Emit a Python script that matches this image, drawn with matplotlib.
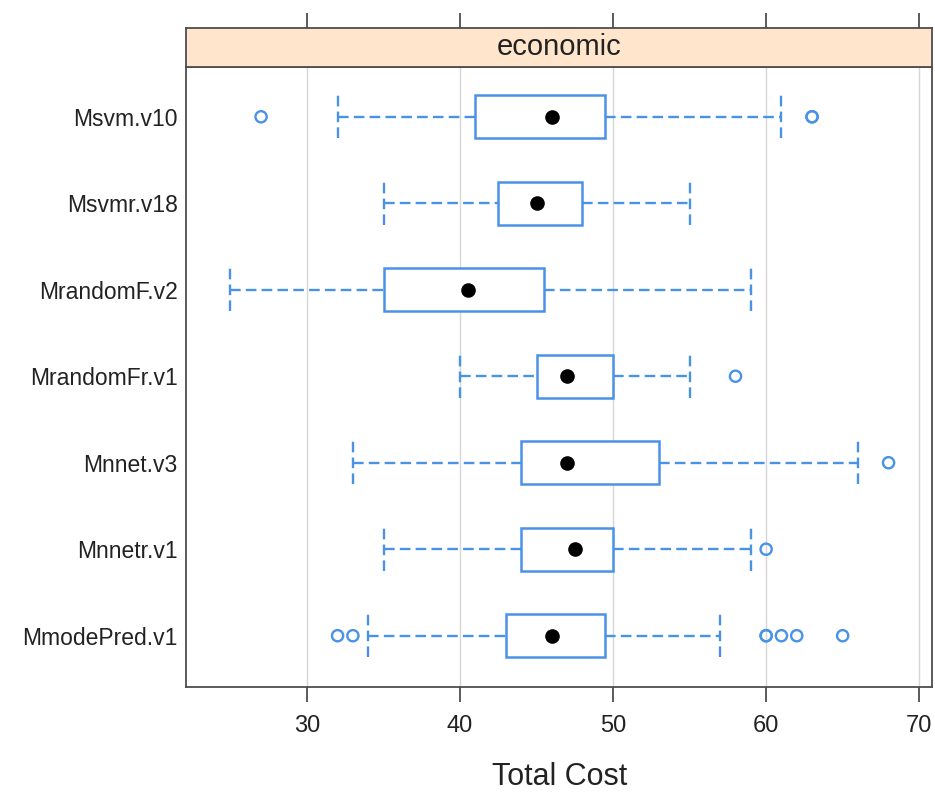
import matplotlib
matplotlib.use("Agg")

import matplotlib.pyplot as plt


# ==========================================================
# DATOS
# ==========================================================

modelos = [
    "MmodePred.v1",
    "Mnnetr.v1",
    "Mnnet.v3",
    "MrandomFr.v1",
    "MrandomF.v2",
    "Msvmr.v18",
    "Msvm.v10",
]

bigote_inf = [34, 35, 33, 40, 25, 35, 32]
q1 = [43, 44, 44, 45, 35, 42.5, 41]
mediana = [46, 47.5, 47, 47, 40.5, 45, 46]
q3 = [49.5, 50, 53, 50, 45.5, 48, 49.5]
bigote_sup = [57, 59, 66, 55, 59, 55, 61]

atipicos = [
    [32, 33, 60, 60, 61, 62, 65],
    [60],
    [68],
    [58],
    [],
    [],
    [27, 63, 63],
]

ticks_x = [30, 40, 50, 60, 70]

panel = "economic"
etiqueta_x = "Total Cost"


# ==========================================================
# ESTILO
# ==========================================================

AZUL = "#4a92e6"
GRIS_BORDE = "#4d4d4d"
FONDO_STRIP = "#ffe5cc"
TEXTO = "#222222"
GUIONES = (0, (4.5, 2.2))

plt.rcParams["font.family"] = ["Liberation Sans", "DejaVu Sans"]


# ==========================================================
# FIGURA
# ==========================================================

fig = plt.figure(figsize=(9.35, 7.93), dpi=100)

ax = fig.add_axes([0.199, 0.134, 0.798, 0.782])
ax_strip = fig.add_axes([0.199, 0.916, 0.798, 0.049])

pos = list(range(1, len(modelos) + 1))

# lineas de referencia
for t in ticks_x:
    ax.axvline(t, color="#d6d6d6", lw=1.0, zorder=0)

# bigotes (discontinuos)
ax.hlines(pos, bigote_inf, q1, colors=AZUL, linestyles=GUIONES,
          lw=1.7, zorder=2)
ax.hlines(pos, q3, bigote_sup, colors=AZUL, linestyles=GUIONES,
          lw=1.7, zorder=2)

# extremos de los bigotes
y_bajo = [p - 0.25 for p in pos]
y_alto = [p + 0.25 for p in pos]
ax.vlines(bigote_inf, y_bajo, y_alto, colors=AZUL,
          linestyles=GUIONES, lw=1.7, zorder=2)
ax.vlines(bigote_sup, y_bajo, y_alto, colors=AZUL,
          linestyles=GUIONES, lw=1.7, zorder=2)

# cajas
anchos = [b - a for a, b in zip(q1, q3)]
ax.barh(pos, anchos, left=q1, height=0.5, color="white",
        edgecolor=AZUL, linewidth=1.8, zorder=3)

# medianas
ax.scatter(mediana, pos, s=90, color="black", zorder=4)

# valores atipicos
for p, valores in zip(pos, atipicos):
    if valores:
        ax.scatter(valores, [p] * len(valores), s=65, facecolors="none",
                   edgecolors=AZUL, linewidths=1.7, zorder=4)


# ==========================================================
# EJES
# ==========================================================

ax.set_xlim(22.1, 70.85)
ax.set_ylim(0.41, 7.58)

ax.set_xticks(ticks_x)
ax.set_xticklabels([str(t) for t in ticks_x], fontsize=17, color=TEXTO)
ax.set_yticks(pos)
ax.set_yticklabels(modelos, fontsize=16.5, color=TEXTO)

ax.tick_params(axis="x", direction="out", length=11, width=1.3,
               color=GRIS_BORDE, pad=9)
ax.tick_params(axis="y", length=0, pad=6)

ax.set_xlabel(etiqueta_x, fontsize=22, labelpad=18, color=TEXTO)

for s in ax.spines.values():
    s.set_color(GRIS_BORDE)
    s.set_linewidth(1.3)


# ==========================================================
# STRIP SUPERIOR
# ==========================================================

ax_strip.set_xlim(ax.get_xlim())
ax_strip.set_ylim(0, 1)
ax_strip.set_facecolor(FONDO_STRIP)
ax_strip.set_yticks([])
ax_strip.set_xticks(ticks_x)
ax_strip.xaxis.set_ticks_position("top")
ax_strip.tick_params(axis="x", direction="out", length=11, width=1.3,
                     color=GRIS_BORDE, labeltop=False, labelbottom=False)

ax_strip.text(0.5, 0.5, panel, transform=ax_strip.transAxes,
              ha="center", va="center", fontsize=21, color=TEXTO)

for s in ax_strip.spines.values():
    s.set_color(GRIS_BORDE)
    s.set_linewidth(1.3)


plt.savefig("out.png", dpi=100)
plt.close()
